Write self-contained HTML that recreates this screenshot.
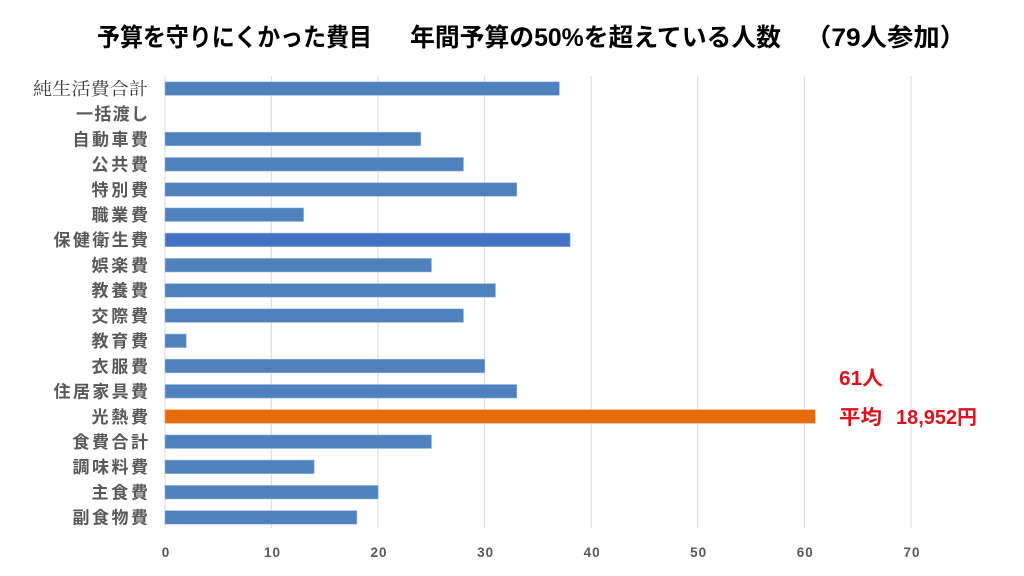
<!DOCTYPE html>
<html><head><meta charset="utf-8"><style>
html,body{margin:0;padding:0;background:#fff;}
svg{display:block;}
</style></head><body>
<svg width="1024" height="576" viewBox="0 0 1024 576" xmlns="http://www.w3.org/2000/svg">
<rect width="1024" height="576" fill="#fff"/>
<g font-family="'Liberation Sans','Noto Sans CJK JP',sans-serif" font-weight="bold" font-size="25" fill="#000">
<text x="97" y="46" textLength="275" lengthAdjust="spacingAndGlyphs">予算を守りにくかった費目</text>
<text x="410" y="46" textLength="371" lengthAdjust="spacingAndGlyphs">年間予算の50%を超えている人数</text>
<text x="805" y="46" textLength="161" lengthAdjust="spacingAndGlyphs">（79人参加）</text>
</g>
<g stroke="#d9d9d9" stroke-width="1">
<line x1="165" y1="76" x2="165" y2="528"/>
<line x1="271.3" y1="76" x2="271.3" y2="528"/>
<line x1="378" y1="76" x2="378" y2="528"/>
<line x1="484.6" y1="76" x2="484.6" y2="528"/>
<line x1="591.2" y1="76" x2="591.2" y2="528"/>
<line x1="697.7" y1="76" x2="697.7" y2="528"/>
<line x1="804.3" y1="76" x2="804.3" y2="528"/>
<line x1="911" y1="76" x2="911" y2="528"/>
</g>
<g stroke="#9dbbe0" stroke-width="0.6">
<rect x="165" y="81.8" width="394.4" height="13.6" fill="#4f81bd"/>
<rect x="165" y="132.2" width="255.8" height="13.6" fill="#4f81bd"/>
<rect x="165" y="157.5" width="298.5" height="13.6" fill="#4f81bd"/>
<rect x="165" y="182.7" width="351.8" height="13.6" fill="#4f81bd"/>
<rect x="165" y="207.9" width="138.6" height="13.6" fill="#4f81bd"/>
<rect x="165" y="233.1" width="405.1" height="13.6" fill="#4472c4"/>
<rect x="165" y="258.4" width="266.5" height="13.6" fill="#4f81bd"/>
<rect x="165" y="283.6" width="330.5" height="13.6" fill="#4f81bd"/>
<rect x="165" y="308.8" width="298.5" height="13.6" fill="#4f81bd"/>
<rect x="165" y="334.0" width="21.3" height="13.6" fill="#4f81bd"/>
<rect x="165" y="359.2" width="319.8" height="13.6" fill="#4f81bd"/>
<rect x="165" y="384.5" width="351.8" height="13.6" fill="#4f81bd"/>
<rect x="165" y="409.7" width="650.3" height="13.6" fill="#e46c0a" stroke="#f0a060"/>
<rect x="165" y="434.9" width="266.5" height="13.6" fill="#4f81bd"/>
<rect x="165" y="460.1" width="149.2" height="13.6" fill="#4f81bd"/>
<rect x="165" y="485.4" width="213.2" height="13.6" fill="#4f81bd"/>
<rect x="165" y="510.6" width="191.9" height="13.6" fill="#4f81bd"/>
</g>
<text x="148" y="94.8" text-anchor="end" font-family="'Liberation Serif','Noto Serif CJK SC',serif" font-size="17.5" fill="#404040" textLength="115" lengthAdjust="spacingAndGlyphs">純生活費合計</text>
<g font-family="'Liberation Sans','Noto Sans CJK JP',sans-serif" font-weight="bold" font-size="17" fill="#595959" text-anchor="end">
<text x="148" y="120.1" textLength="72" lengthAdjust="spacing">一括渡し</text>
<text x="148" y="145.3" textLength="75.5" lengthAdjust="spacing">自動車費</text>
<text x="148" y="170.6" textLength="56.5" lengthAdjust="spacing">公共費</text>
<text x="148" y="195.8" textLength="56.5" lengthAdjust="spacing">特別費</text>
<text x="148" y="221.0" textLength="56.5" lengthAdjust="spacing">職業費</text>
<text x="148" y="246.2" textLength="94.5" lengthAdjust="spacing">保健衛生費</text>
<text x="148" y="271.5" textLength="56.5" lengthAdjust="spacing">娯楽費</text>
<text x="148" y="296.7" textLength="56.5" lengthAdjust="spacing">教養費</text>
<text x="148" y="321.9" textLength="56.5" lengthAdjust="spacing">交際費</text>
<text x="148" y="347.1" textLength="56.5" lengthAdjust="spacing">教育費</text>
<text x="148" y="372.3" textLength="56.5" lengthAdjust="spacing">衣服費</text>
<text x="148" y="397.6" textLength="94.5" lengthAdjust="spacing">住居家具費</text>
<text x="148" y="422.8" textLength="56.5" lengthAdjust="spacing">光熱費</text>
<text x="148" y="448.0" textLength="75.5" lengthAdjust="spacing">食費合計</text>
<text x="148" y="473.2" textLength="75.5" lengthAdjust="spacing">調味料費</text>
<text x="148" y="498.5" textLength="56.5" lengthAdjust="spacing">主食費</text>
<text x="148" y="523.7" textLength="75.5" lengthAdjust="spacing">副食物費</text>
</g>
<g font-family="'Liberation Sans',sans-serif" font-weight="bold" font-size="13.5" fill="#595959" text-anchor="middle" letter-spacing="1">
<text x="166" y="556.8">0</text>
<text x="272.5" y="556.8">10</text>
<text x="379" y="556.8">20</text>
<text x="485.6" y="556.8">30</text>
<text x="592.2" y="556.8">40</text>
<text x="698.7" y="556.8">50</text>
<text x="805.3" y="556.8">60</text>
<text x="912" y="556.8">70</text>
</g>
<g font-family="'Liberation Sans','Noto Sans CJK JP',sans-serif" font-weight="bold" font-size="20" fill="#e0101c">
<text x="839" y="385" textLength="44" lengthAdjust="spacingAndGlyphs">61人</text>
<text x="839" y="424" textLength="43" lengthAdjust="spacingAndGlyphs">平均</text>
<text x="896" y="424" textLength="81" lengthAdjust="spacingAndGlyphs">18,952円</text>
</g>
</svg>
</body></html>
